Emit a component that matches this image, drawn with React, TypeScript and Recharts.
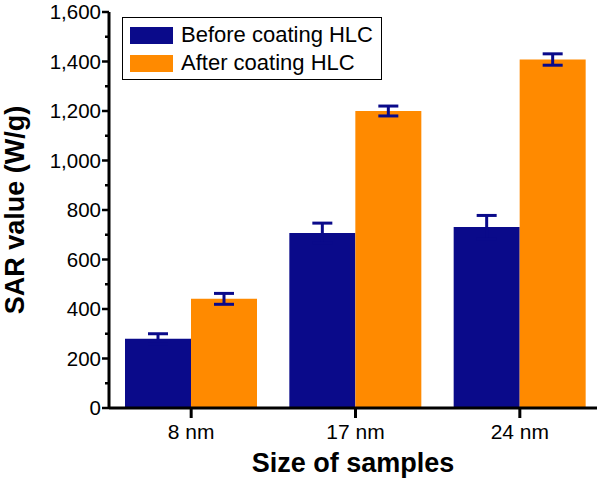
import React from 'react';
import { BarChart, Bar, XAxis, YAxis, ErrorBar, Legend } from 'recharts';

const categories = ['8 nm', '17 nm', '24 nm'];
const seriesNames = ['Before coating HLC', 'After coating HLC'];
const beforeValues = [280, 707, 731];
const beforeErrors = [20, 40, 47];
const afterValues = [441, 1200, 1408];
const afterErrors = [22, 20, 23];
const yTicks = [0, 100, 200, 300, 400, 500, 600, 700, 800, 900, 1000, 1100, 1200, 1300, 1400, 1500, 1600];

const NAVY = '#0a0a8a';
const ORANGE = '#ff8a00';
const FONT = '"Liberation Sans", Arial, sans-serif';

const data = categories.map((c, i) => ({
  name: c,
  before: beforeValues[i],
  beforeErr: beforeErrors[i],
  after: afterValues[i],
  afterErr: afterErrors[i],
}));

const fmt = (v: number) => v.toLocaleString('en-US');

const YTick = (props: any) => {
  const { x, y, payload } = props;
  const major = payload.value % 200 === 0;
  return (
    <g>
      <line x1={x} x2={x - (major ? 7 : 4)} y1={y} y2={y} stroke="#000" strokeWidth={2.5} />
      {major && (
        <text x={x - 8} y={y} dy={7.2} textAnchor="end" fontSize={20.5} fontFamily={FONT} fill="#000">
          {fmt(payload.value)}
        </text>
      )}
    </g>
  );
};

const XTick = (props: any) => {
  const { x, y, payload } = props;
  return (
    <g>
      <line x1={x} x2={x} y1={y} y2={y + 10} stroke="#000" strokeWidth={3} />
      <text x={x} y={y + 31} textAnchor="middle" fontSize={21} fontFamily={FONT} fill="#000">
        {payload.value}
      </text>
    </g>
  );
};

const LegendContent = (props: any) => {
  const items = [...(props.payload || [])].sort(
    (a: any, b: any) => seriesNames.indexOf(a.value) - seriesNames.indexOf(b.value)
  );
  return (
    <div
      style={{
        border: '1.5px solid #000',
        background: '#fff',
        width: 260,
        height: 63,
        boxSizing: 'border-box',
        padding: '3px 0 0 7px',
        fontFamily: FONT,
        fontSize: 22,
      }}
    >
      {items.map((p: any) => (
        <div key={p.value} style={{ display: 'flex', alignItems: 'center', height: 28 }}>
          <div style={{ width: 43, height: 17, background: p.color, marginRight: 8 }} />
          <span style={{ lineHeight: '28px', color: '#000' }}>{p.value}</span>
        </div>
      ))}
    </div>
  );
};

export default function App() {
  return (
    <div style={{ position: 'absolute', left: 0, top: 0, width: 604, height: 478, background: '#fff' }}>
      <BarChart
        width={604}
        height={478}
        data={data}
        margin={{ top: 12, right: 7, left: 0, bottom: 0 }}
        barCategoryGap={16}
        barGap={0}
      >
        <XAxis
          dataKey="name"
          height={70}
          tickSize={0}
          tickMargin={0}
          tickLine={false}
          axisLine={{ stroke: '#000', strokeWidth: 3 }}
          tick={<XTick />}
          padding={{ left: 0, right: -5 }}
          label={{
            value: 'Size of samples',
            position: 'insideBottom',
            offset: 6,
            fontSize: 27,
            fontWeight: 'bold',
            fontFamily: FONT,
            fill: '#000',
          }}
        />
        <XAxis
          xAxisId="top"
          dataKey="name"
          orientation="top"
          height={0}
          tick={false}
          tickLine={false}
          axisLine={{ stroke: '#000', strokeWidth: 2.5 }}
        />
        <YAxis
          width={109}
          domain={[0, 1600]}
          ticks={yTicks}
          interval={0}
          tickSize={0}
          tickMargin={0}
          tickLine={false}
          axisLine={{ stroke: '#000', strokeWidth: 3 }}
          tick={<YTick />}
          label={{
            value: 'SAR value (W/g)',
            angle: -90,
            position: 'insideLeft',
            offset: 0,
            dx: 14,
            dy: 0,
            fontSize: 27,
            fontWeight: 'bold',
            fontFamily: FONT,
            fill: '#000',
            style: { textAnchor: 'middle' },
          }}
        />
        <YAxis
          yAxisId="right"
          orientation="right"
          width={0}
          tick={false}
          tickLine={false}
          axisLine={{ stroke: '#000', strokeWidth: 2.5 }}
        />
        <Legend
          layout="vertical"
          verticalAlign="middle"
          align="center"
          content={<LegendContent />}
          wrapperStyle={{ position: 'absolute', left: 122, top: 17, width: 260, height: 63 }}
        />
        <Bar dataKey="before" name={seriesNames[0]} fill={NAVY} isAnimationActive={false}>
          <ErrorBar dataKey="beforeErr" width={10} stroke={NAVY} strokeWidth={3} />
        </Bar>
        <Bar dataKey="after" name={seriesNames[1]} fill={ORANGE} isAnimationActive={false}>
          <ErrorBar dataKey="afterErr" width={10} stroke={NAVY} strokeWidth={3} />
        </Bar>
      </BarChart>
    </div>
  );
}
